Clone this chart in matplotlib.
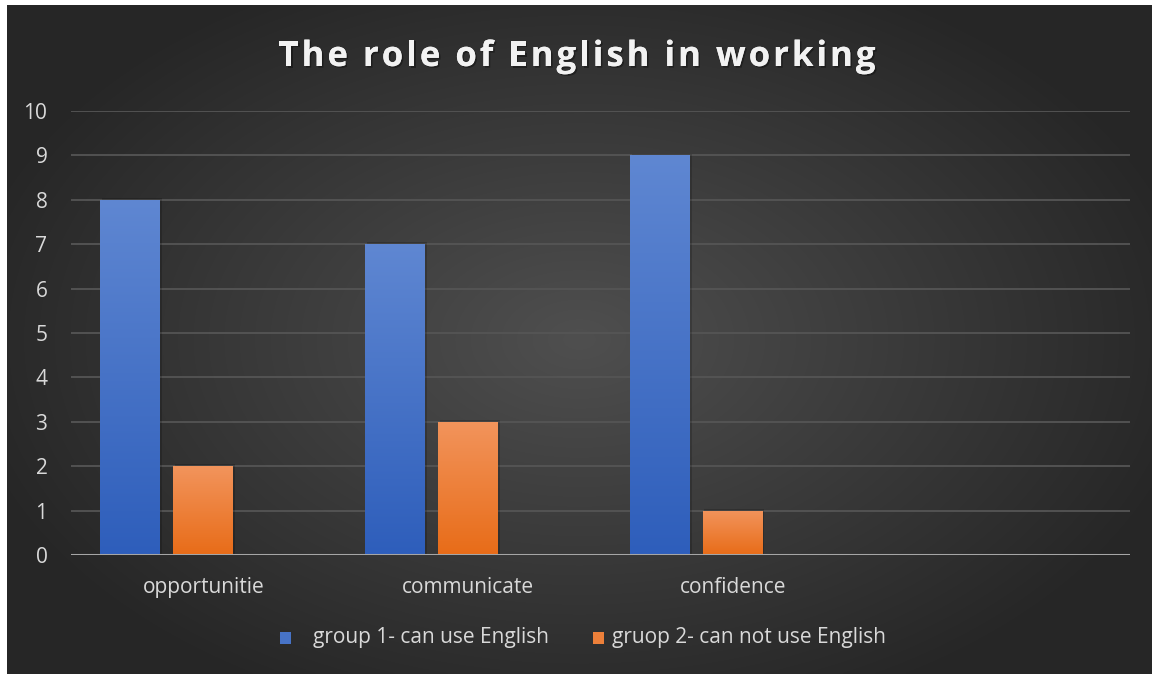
import numpy as np
import matplotlib
matplotlib.use("Agg")
import matplotlib.pyplot as plt
from matplotlib.patches import Rectangle
import matplotlib.patheffects as pe
from matplotlib.textpath import TextPath
from matplotlib.font_manager import FontProperties

categories = ["opportunitie", "communicate", "confidence", ""]
group1 = [8, 7, 9, None]
group2 = [2, 3, 1, None]
series_names = ["group 1- can use English", "gruop 2- can not use English"]
title = "The role of English in working"
yticks = list(range(0, 11))

W, H = 1152, 674
fig = plt.figure(figsize=(W / 100, H / 100), dpi=100, facecolor="white")

# background with radial gradient
bg = fig.add_axes([7 / W, 0, 1 - 7 / W, 1 - 5 / H])
bg.set_axis_off()
yy, xx = np.mgrid[0:1:300j, 0:1:500j]
r = np.sqrt(((xx - 0.5) / 0.55) ** 2 + ((yy - 0.5) / 0.6) ** 2)
v = np.clip(1 - r, 0, 1)
c0 = np.array([0.15, 0.15, 0.15])
c1 = np.array([0.31, 0.31, 0.31])
img = c0 + (c1 - c0) * v[..., None]
bg.imshow(img, aspect="auto", extent=[0, 1, 0, 1], interpolation="bilinear")
bg.set_xlim(0, 1)
bg.set_ylim(0, 1)

ax = fig.add_axes([71 / W, 1 - 555 / H, (1130 - 71) / W, (555 - 111) / H])
ax.patch.set_alpha(0)
ax.set_xlim(-0.5, len(categories) - 0.5)
ax.set_ylim(0, 10)

bw = 60 / 265
off = 73 / 265
x = np.arange(len(categories))

def grad_bar(xc, h, ctop, cbot):
    if h is None:
        return
    sh = Rectangle((xc - bw / 2 + 0.006, 0), bw, h + 0.04, facecolor="black",
                   alpha=0.18, edgecolor="none", zorder=2)
    ax.add_patch(sh)
    rect = Rectangle((xc - bw / 2, 0), bw, h, facecolor="none", edgecolor="none", zorder=3)
    ax.add_patch(rect)
    t = np.linspace(0, 1, 256)[:, None]
    g = np.array(cbot)[None, None, :] * (1 - t[..., None]) + np.array(ctop)[None, None, :] * t[..., None]
    im = ax.imshow(g, aspect="auto", extent=[xc - bw / 2, xc + bw / 2, 0, h],
                   origin="lower", zorder=3, interpolation="bilinear")
    im.set_clip_path(rect)

blue_top = np.array([0x5f, 0x87, 0xd2]) / 255
blue_bot = np.array([0x2e, 0x5e, 0xbb]) / 255
or_top = np.array([0xf2, 0x94, 0x5c]) / 255
or_bot = np.array([0xe8, 0x6c, 0x18]) / 255

for i in range(len(categories)):
    grad_bar(x[i] - off, group1[i], blue_top, blue_bot)
    grad_bar(x[i], group2[i], or_top, or_bot)

ax.set_xlim(-0.5, len(categories) - 0.5)
ax.set_ylim(0, 10)

for yv in yticks[1:]:
    ax.axhline(yv, color="#555555", lw=1.3, zorder=1)
ax.axhline(0, color="#a6a6a6", lw=2.2, zorder=4)

for s in ax.spines.values():
    s.set_visible(False)
lblsize = 15
ax.set_yticks(yticks)
ax.set_yticklabels([str(t) for t in yticks], color="#d9d9d9", fontsize=lblsize)
ax.set_xticks(x)
ax.set_xticklabels(categories, color="#d9d9d9", fontsize=lblsize)
ax.tick_params(axis="both", length=0)
ax.tick_params(axis="y", pad=17)
ax.tick_params(axis="x", pad=16)
for lbl in ax.get_yticklabels() + ax.get_xticklabels():
    lbl.set_fontfamily("Open Sans")

# letter-spaced title
fp = FontProperties(family="Open Sans", weight="bold", size=25)
spacing = 3.0  # px extra per char
widths = []
for ch in title:
    if ch == " ":
        tp = TextPath((0, 0), "a a", prop=fp)
        tp2 = TextPath((0, 0), "aa", prop=fp)
        w = (tp.get_extents().width - tp2.get_extents().width)
    else:
        tp = TextPath((0, 0), "|" + ch + "|", prop=fp)
        tp2 = TextPath((0, 0), "||", prop=fp)
        w = tp.get_extents().width - tp2.get_extents().width
    widths.append(w * 100 / 72)  # points -> px
total = sum(widths) + spacing * (len(title) - 1)
cx = 577
xcur = cx - total / 2
for ch, w in zip(title, widths):
    if ch != " ":
        fig.text(xcur / W, 1 - 57 / H, ch, ha="left", va="center", color="#f2f2f2",
                 fontproperties=fp,
                 path_effects=[pe.withSimplePatchShadow(offset=(1.2, -1.2), shadow_rgbFace="black", alpha=0.35),
                               pe.Normal()])
    xcur += w + spacing

# legend
fig.patches.append(Rectangle((280 / W, 1 - 644 / H), 11 / W, 12 / H, transform=fig.transFigure,
                             facecolor=(blue_top + blue_bot) / 2, edgecolor="none"))
fig.text(313 / W, 1 - 637 / H, series_names[0], ha="left", va="center", color="#d9d9d9",
         fontsize=lblsize, family="Open Sans")
fig.patches.append(Rectangle((593 / W, 1 - 644 / H), 11 / W, 12 / H, transform=fig.transFigure,
                             facecolor=(or_top + or_bot) / 2, edgecolor="none"))
fig.text(612 / W, 1 - 637 / H, series_names[1], ha="left", va="center", color="#d9d9d9",
         fontsize=lblsize, family="Open Sans")

fig.savefig("out.png", dpi=100, facecolor="white")
